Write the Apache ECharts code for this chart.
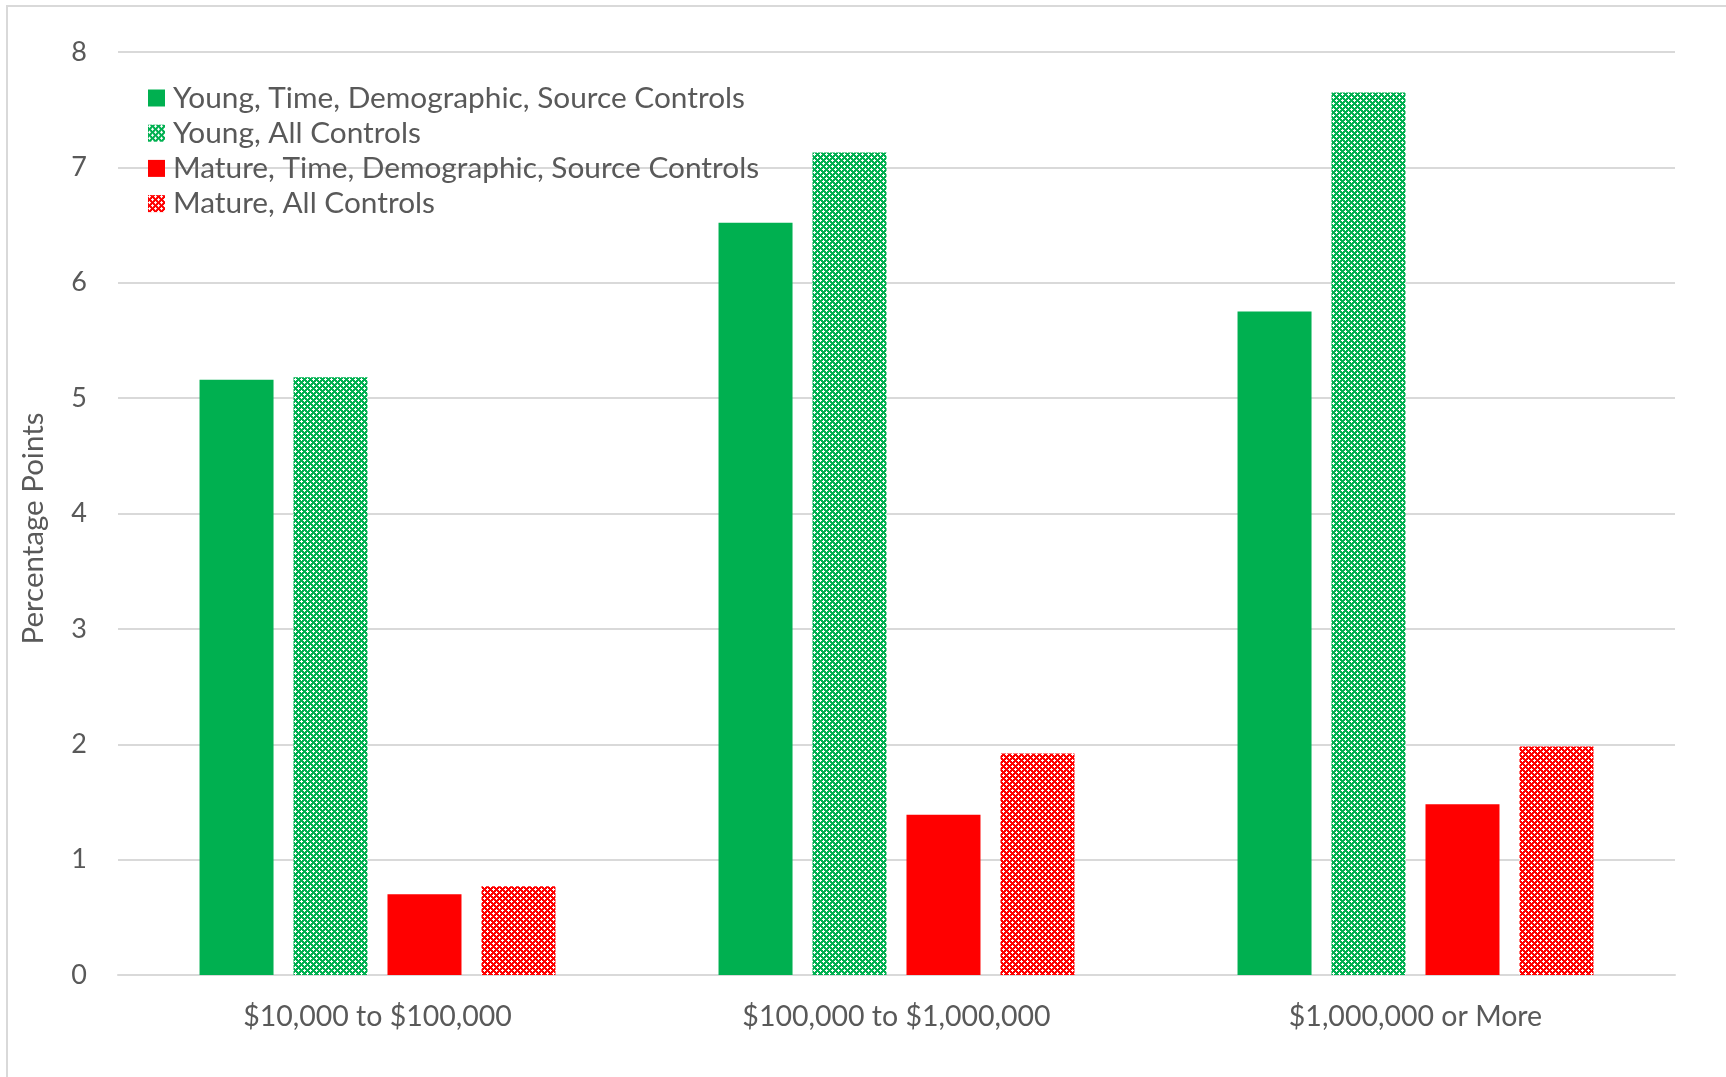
<!DOCTYPE html>
<html>
<head>
<meta charset="utf-8">
<script src="https://cdn.jsdelivr.net/npm/echarts@6/dist/echarts.min.js"></script>
<style>
  html, body { margin: 0; padding: 0; background: #fff; }
  #chart { width: 1726px; height: 1077px; }
</style>
</head>
<body>
<div id="chart"></div>
<script>
const categories = ['$10,000 to $100,000', '$100,000 to $1,000,000', '$1,000,000 or More']
const seriesNames = [
  'Young, Time, Demographic, Source Controls',
  'Young, All Controls',
  'Mature, Time, Demographic, Source Controls',
  'Mature, All Controls'
]
const youngBasic = [5.16, 6.52, 5.75]
const youngAll = [5.18, 7.13, 7.65]
const matureBasic = [0.70, 1.39, 1.48]
const matureAll = [0.77, 1.92, 1.98]
const yTicks = [0, 1, 2, 3, 4, 5, 6, 7, 8]

const GREEN = '#00B050'
const RED = '#FF0000'
const TEXT = '#595959'
const FONT = 'Lato'

// small cross pattern like the excel fill: white plus holes on colour
const HOLES = [
  [1, 0], [0, 1], [1, 1], [2, 1], [1, 2],
  [4, 3], [3, 4], [4, 4], [5, 4], [4, 5]
]
function crossTile(color) {
  const size = 6
  const c = document.createElement('canvas')
  c.width = size
  c.height = size
  const ctx = c.getContext('2d')
  ctx.fillStyle = color
  ctx.fillRect(0, 0, size, size)
  ctx.fillStyle = '#fff'
  HOLES.forEach(function (p) {
    ctx.fillRect(p[0], p[1], 1, 1)
  })
  return { image: c, repeat: 'repeat' }
}

const chart = echarts.init(document.getElementById('chart'))

function barSeries(name, data, color) {
  return {
    name: name,
    type: 'bar',
    data: data,
    barWidth: 74,
    barGap: '27%',
    itemStyle: { color: color }
  }
}

chart.setOption({
  animation: false,
  backgroundColor: '#fff',
  graphic: [
    {
      type: 'rect',
      shape: { x: 7, y: 6, width: 1740, height: 1100 },
      style: { fill: 'none', stroke: '#d9d9d9', lineWidth: 2 },
      silent: true
    }
  ],
  grid: { left: 118, right: 51, top: 52, bottom: 102 },
  legend: {
    orient: 'vertical',
    left: 143,
    top: 78,
    icon: 'rect',
    itemWidth: 17,
    itemHeight: 17,
    itemGap: 5.2,
    textStyle: {
      fontFamily: FONT,
      fontSize: 29.8,
      lineHeight: 29,
      color: TEXT,
      padding: [0, 0, 0, 3]
    },
    data: seriesNames
  },
  xAxis: {
    type: 'category',
    data: categories,
    axisTick: { show: false },
    axisLine: { lineStyle: { color: '#d9d9d9', width: 2 } },
    axisLabel: { fontFamily: FONT, fontSize: 28.5, color: TEXT, margin: 27 }
  },
  yAxis: {
    type: 'value',
    min: yTicks[0],
    max: yTicks[yTicks.length - 1],
    interval: 1,
    name: 'Percentage Points',
    nameLocation: 'middle',
    nameGap: 70,
    nameTextStyle: { fontFamily: FONT, fontSize: 29.5, color: TEXT, padding: [0, 0, 0, -30] },
    axisLine: { show: false },
    axisTick: { show: false },
    axisLabel: { fontFamily: FONT, fontSize: 27, color: TEXT, margin: 31 },
    splitLine: { lineStyle: { color: '#d9d9d9', width: 2 } }
  },
  series: [
    barSeries(seriesNames[0], youngBasic, GREEN),
    barSeries(seriesNames[1], youngAll, crossTile(GREEN)),
    barSeries(seriesNames[2], matureBasic, RED),
    barSeries(seriesNames[3], matureAll, crossTile(RED))
  ]
})
</script>
</body>
</html>
